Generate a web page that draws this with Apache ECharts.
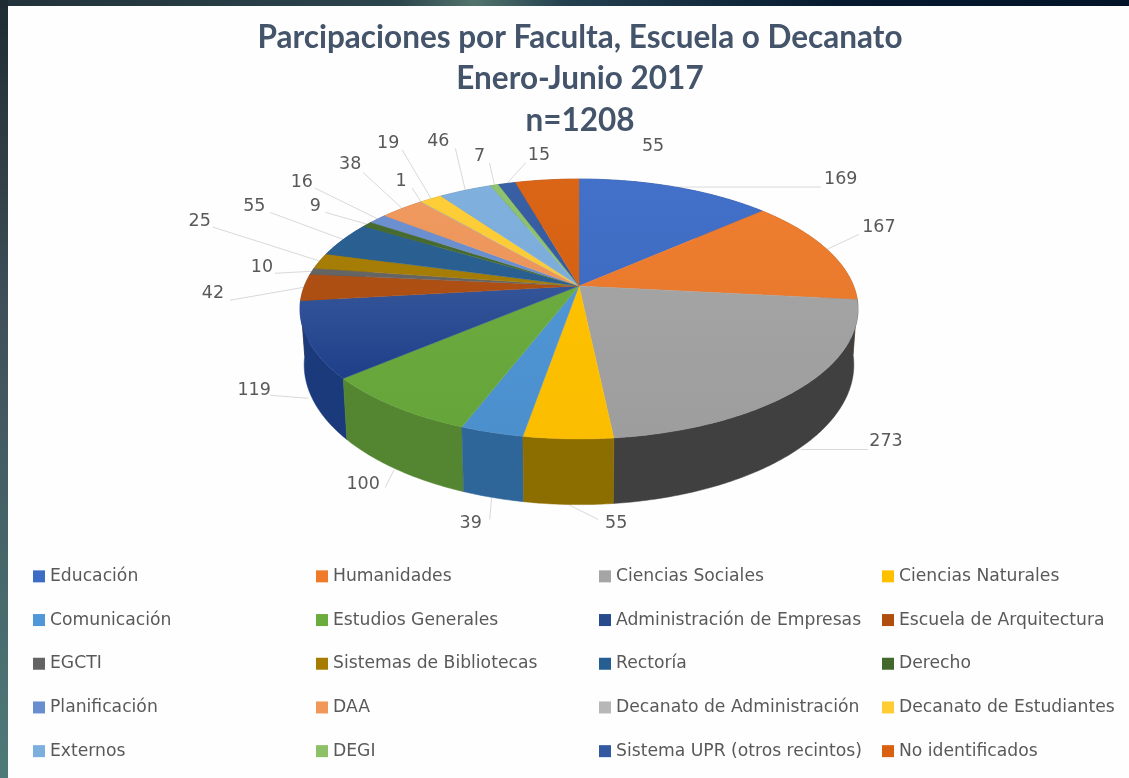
<!DOCTYPE html>
<html>
<head>
<meta charset="utf-8">
<title>Parcipaciones por Faculta, Escuela o Decanato</title>
<script src="https://cdn.jsdelivr.net/npm/echarts@6/dist/echarts.min.js"></script>
<style>
  html, body { margin: 0; padding: 0; background: #fff; }
  #chart { width: 1129px; height: 778px; }
</style>
</head>
<body>
<div id="chart"></div>
<script>
const CATEGORIES = [
  'Educación', 'Humanidades', 'Ciencias Sociales', 'Ciencias Naturales',
  'Comunicación', 'Estudios Generales', 'Administración de Empresas', 'Escuela de Arquitectura',
  'EGCTI', 'Sistemas de Bibliotecas', 'Rectoría', 'Derecho',
  'Planificación', 'DAA', 'Decanato de Administración', 'Decanato de Estudiantes',
  'Externos', 'DEGI', 'Sistema UPR (otros recintos)', 'No identificados'
];
const VALUES = [169, 167, 273, 55, 39, 100, 119, 42, 10, 25, 55, 9, 16, 38, 1, 19, 46, 7, 15, 55];
const COLORS = [
  '#3d6cc6', '#ef7a2a', '#a5a5a5', '#ffc000', '#4f97d8', '#6aad3c', '#264a8c', '#b04e10',
  '#636363', '#a67c00', '#255e91', '#43682b', '#698ed0', '#f1975a', '#b7b7b7', '#ffcd33',
  '#7cafdd', '#8cc168', '#335aa1', '#d9600f'
];
const WALL_COLORS = [
  '#2b4a86', '#a8561e', '#404040', '#8c6d00', '#2f6699', '#548530', '#1b3a7c', '#7a3a0b',
  '#444444', '#6e5300', '#1a4468', '#2f4a1e', '#4a6594', '#a86a3f', '#808080', '#b39024',
  '#587c9c', '#628749', '#243f71', '#93430a'
];
// the navy slice falls off much harder than the others, into its own wall; the yellow hardly at all
const TOP_OVERRIDE = { 3: ['#ffc400', '#fbbd00'], 6: ['#4e6eaa', '#103080'] };

// label and leader end, relative to the point on the rim of each slice
const LABEL_OFFSET = [
  [165, -8], [52, -22], [85, -8], [48, 19], [-21, 26], [-31, 15], [-54, -8], [-91, 6], [-50, -4], [-120, -40],
  [-89, -33], [-52, -18], [-76, -37], [-52, -44], [-20, -20], [-43, -55], [-27, -49], [-15, -29], [32, -28], [106, -33]
];
const LEADER_OFFSET = [
  [145, 0], [32, -15], [67, 0], [30, 15], [-2, 22], [-9, 18], [-38, -3], [-74, 13], [-37, 2], [-107, -34],
  [-73, -27], [-42, -12], [-63, -31], [-39, -36], [-9, -14], [-29, -49], [-10, -42], [-5, -22], [19, -21], [0, 0]
];

const PIE = { cx: 579, cy: 286, a: 274.6, b: 125.9, k: 0.177, depth: 54, floorScale: 0.985 };
const FONT = '"DejaVu Sans", sans-serif';
const total = VALUES.reduce((s, v) => s + v, 0);

// circle -> screen, with the perspective of the tilted pie
function project(angle) {
  const X = Math.sin(angle);
  const Z = -Math.cos(angle);
  const w = 1 / (1 - PIE.k * Z);
  return { x: PIE.cx + PIE.a * X * w, y: PIE.cy + PIE.b * Z * w, z: Z, drop: PIE.depth * w };
}

function arc(from, to) {
  const n = Math.max(2, Math.ceil((to - from) / 0.01));
  const pts = [];
  for (let i = 0; i <= n; i++) {
    pts.push(project(from + (to - from) * i / n));
  }
  return pts;
}

let acc = 0;
const angles = VALUES.map(v => {
  const start = acc / total * Math.PI * 2;
  acc += v;
  return [start, acc / total * Math.PI * 2];
});

function renderSlice(i, params, api) {
  const value = api.value(0);
  const [start, end] = angles[i];
  const rim = arc(start, end);
  const mid = project((start + end) / 2);
  // slices at the front hang their label from the bottom of the wall
  const anchor = { x: mid.x, y: mid.y + (mid.z > 0.3 ? mid.drop : 0) };

  const top = [[PIE.cx, PIE.cy]].concat(rim.map(p => [p.x, p.y]));
  // the floor of the pie is a little further away, so a little narrower
  const floor = rim.slice().reverse().map(p => [PIE.cx + (p.x - PIE.cx) * PIE.floorScale, p.y + p.drop]);
  const wall = rim.map(p => [p.x, p.y]).concat(floor);
  const maxZ = Math.max.apply(null, rim.map(p => p.z));
  const stops = TOP_OVERRIDE[i] || [
    echarts.color.lerp(0.03, [COLORS[i], '#ffffff']),
    echarts.color.lerp(0.05, [COLORS[i], '#000000'])
  ];
  const topFill = new echarts.graphic.LinearGradient(0, 180, 0, 440, [
    { offset: 0, color: stops[0] },
    { offset: 1, color: stops[1] }
  ], true);

  const children = [
    {
      type: 'polygon',
      z2: 100 + Math.round(maxZ * 50),
      shape: { points: wall },
      style: { fill: WALL_COLORS[i], stroke: WALL_COLORS[i], lineWidth: 0.5 }
    },
    {
      type: 'polygon',
      z2: 300,
      shape: { points: top },
      style: { fill: topFill, stroke: topFill, lineWidth: 0.4 }
    },
    {
      type: 'text',
      z2: 400,
      style: {
        x: anchor.x + LABEL_OFFSET[i][0],
        y: anchor.y + LABEL_OFFSET[i][1],
        text: String(value),
        fill: '#595959',
        font: '17.5px ' + FONT,
        align: 'center',
        verticalAlign: 'middle'
      }
    }
  ];
  if (LEADER_OFFSET[i][0] || LEADER_OFFSET[i][1]) {
    children.push({
      type: 'polyline',
      z2: 50,
      shape: { points: [[anchor.x, anchor.y], [anchor.x + LEADER_OFFSET[i][0], anchor.y + LEADER_OFFSET[i][1]]] },
      style: { stroke: '#d9d9d9', lineWidth: 1, fill: 'none' }
    });
  }
  return { type: 'group', children };
}

const series = CATEGORIES.map((name, i) => ({
  type: 'custom',
  name,
  coordinateSystem: 'none',
  data: [[VALUES[i]]],
  itemStyle: { color: COLORS[i] },
  silent: true,
  animation: false,
  renderItem: (params, api) => renderSlice(i, params, api)
}));

// the legend reads across, four columns of five rows
const LEGEND_LEFT = [33, 316, 599, 882];
const legend = LEGEND_LEFT.map((left, col) => ({
  orient: 'vertical',
  left,
  top: 565,
  padding: 0,
  itemWidth: 12,
  itemHeight: 12,
  itemGap: 21,
  icon: 'rect',
  selectedMode: false,
  data: CATEGORIES.filter((n, i) => i % 4 === col),
  textStyle: { color: '#595959', fontFamily: FONT, fontSize: 17.2, height: 22.7, lineHeight: 22.7 }
}));

const chart = echarts.init(document.getElementById('chart'), null, { renderer: 'canvas' });
chart.setOption({
  backgroundColor: '#fefefe',
  animation: false,
  title: {
    text: 'Parcipaciones por Faculta, Escuela o Decanato\nEnero-Junio 2017\nn=1208',
    left: 575,
    top: 12,
    textAlign: 'center',
    textStyle: { color: '#44546a', fontFamily: 'Lato, sans-serif', fontWeight: 'bold', fontSize: 31.5, lineHeight: 41.5 }
  },
  legend,
  series,
  graphic: [
    {
      type: 'rect',
      z: 100,
      shape: { x: 0, y: 0, width: 1129, height: 6 },
      style: {
        fill: new echarts.graphic.LinearGradient(0, 0, 1, 0, [
          { offset: 0, color: '#22323a' },
          { offset: 0.35, color: '#2c444c' },
          { offset: 0.42, color: '#52736c' },
          { offset: 0.5, color: '#24404f' },
          { offset: 0.75, color: '#06192e' },
          { offset: 1, color: '#031428' }
        ])
      }
    },
    {
      type: 'rect',
      z: 100,
      shape: { x: 0, y: 0, width: 8, height: 778 },
      style: {
        fill: new echarts.graphic.LinearGradient(0, 0, 0, 1, [
          { offset: 0, color: '#1f2b32' },
          { offset: 0.4, color: '#3f5058' },
          { offset: 1, color: '#4d7a78' }
        ])
      }
    }
  ]
});
</script>
</body>
</html>
